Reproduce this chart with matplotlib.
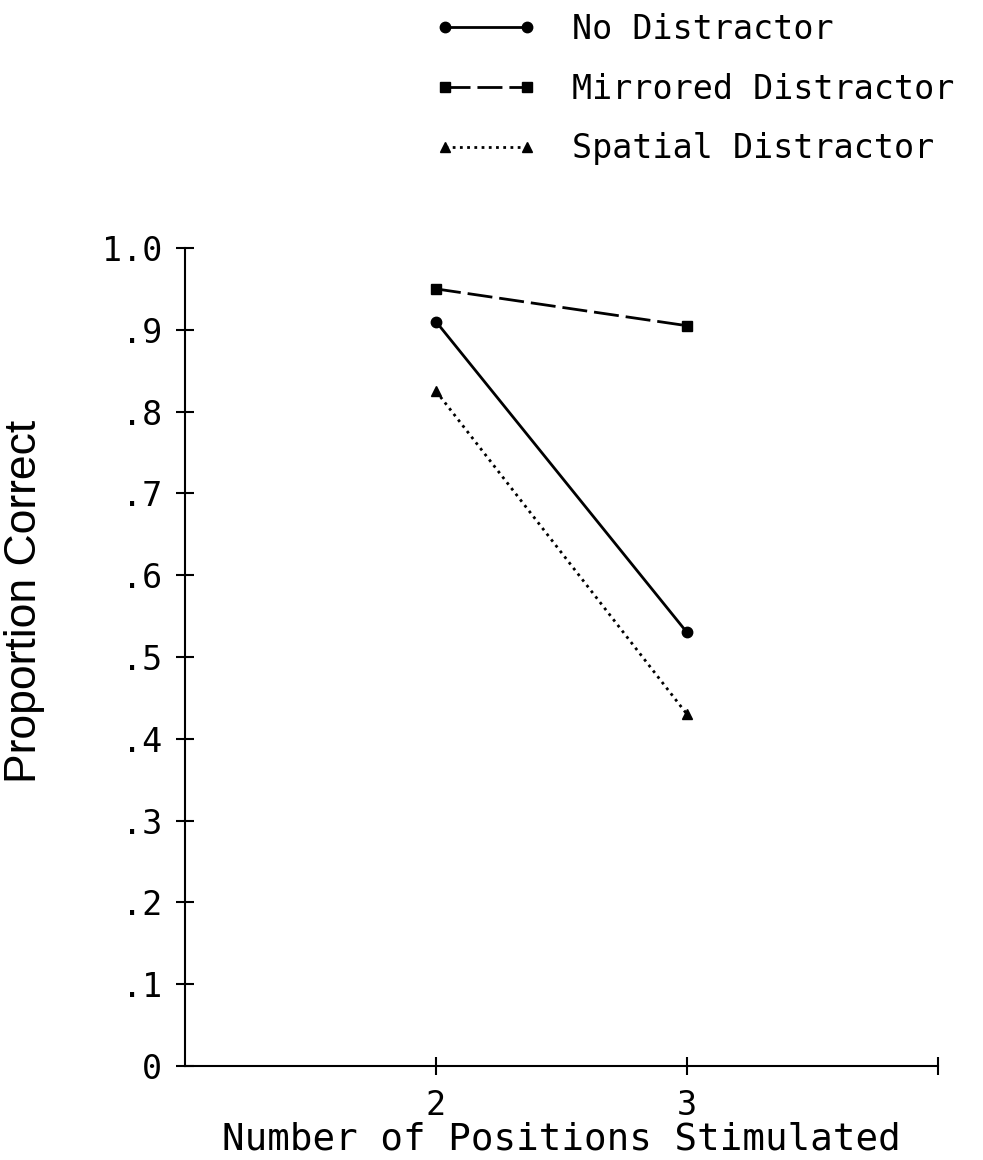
import matplotlib
matplotlib.use("Agg")
import matplotlib.pyplot as plt

# values
positions = [2, 3]
no_distractor = [0.91, 0.53]
mirrored_distractor = [0.95, 0.905]
spatial_distractor = [0.825, 0.43]

series_names = ["No Distractor", "Mirrored Distractor", "Spatial Distractor"]
y_ticks = [0, 0.1, 0.2, 0.3, 0.4, 0.5, 0.6, 0.7, 0.8, 0.9, 1.0]
y_tick_labels = ["0", ".1", ".2", ".3", ".4", ".5", ".6", ".7", ".8", ".9", "1.0"]
x_ticks = [2, 3, 4]
x_tick_labels = ["2", "3", ""]

# plotter-like lettering: wide, evenly spaced
plt.rcParams["font.family"] = ["DejaVu Sans Mono", "DejaVu Sans"]

fig = plt.figure(figsize=(9.83, 11.6), dpi=100)
ax = fig.add_axes([185 / 983, 1 - 1066 / 1160, (938 - 185) / 983, 818 / 1160])

ax.plot(positions, no_distractor, color="black", lw=2, ls="-",
        marker="o", ms=7.5, clip_on=False, label=series_names[0])
ax.plot(positions, mirrored_distractor, color="black", lw=2, ls=(0, (9, 2.5)),
        marker="s", ms=7.5, clip_on=False, label=series_names[1])
ax.plot(positions, spatial_distractor, color="black", lw=2, ls=(0, (1, 1.6)),
        marker="^", ms=7.5, clip_on=False, label=series_names[2])

ax.set_xlim(1, 4)
ax.set_ylim(0, 1.0)
for side in ["top", "right"]:
    ax.spines[side].set_visible(False)
for side in ["left", "bottom"]:
    ax.spines[side].set_linewidth(1.5)

ax.set_yticks(y_ticks)
ax.set_yticklabels(y_tick_labels)
ax.set_xticks(x_ticks)
ax.set_xticklabels(x_tick_labels)
ax.tick_params(direction="inout", length=13, width=1.5, labelsize=24, pad=10)

ax.set_xlabel("Number of Positions Stimulated", fontsize=27, labelpad=0)
ax.set_ylabel("Proportion Correct", fontsize=32,
              family=["Liberation Sans Narrow", "Liberation Sans", "DejaVu Sans"])
ax.yaxis.set_label_coords(-0.186, 0.568)

fig.legend(loc="upper left", bbox_to_anchor=(405 / 983, 1 + 17 / 1160),
           frameon=False, fontsize=24, numpoints=2, handlelength=3.05,
           handletextpad=1.05, labelspacing=0.8)

fig.savefig("out.png", dpi=100)
